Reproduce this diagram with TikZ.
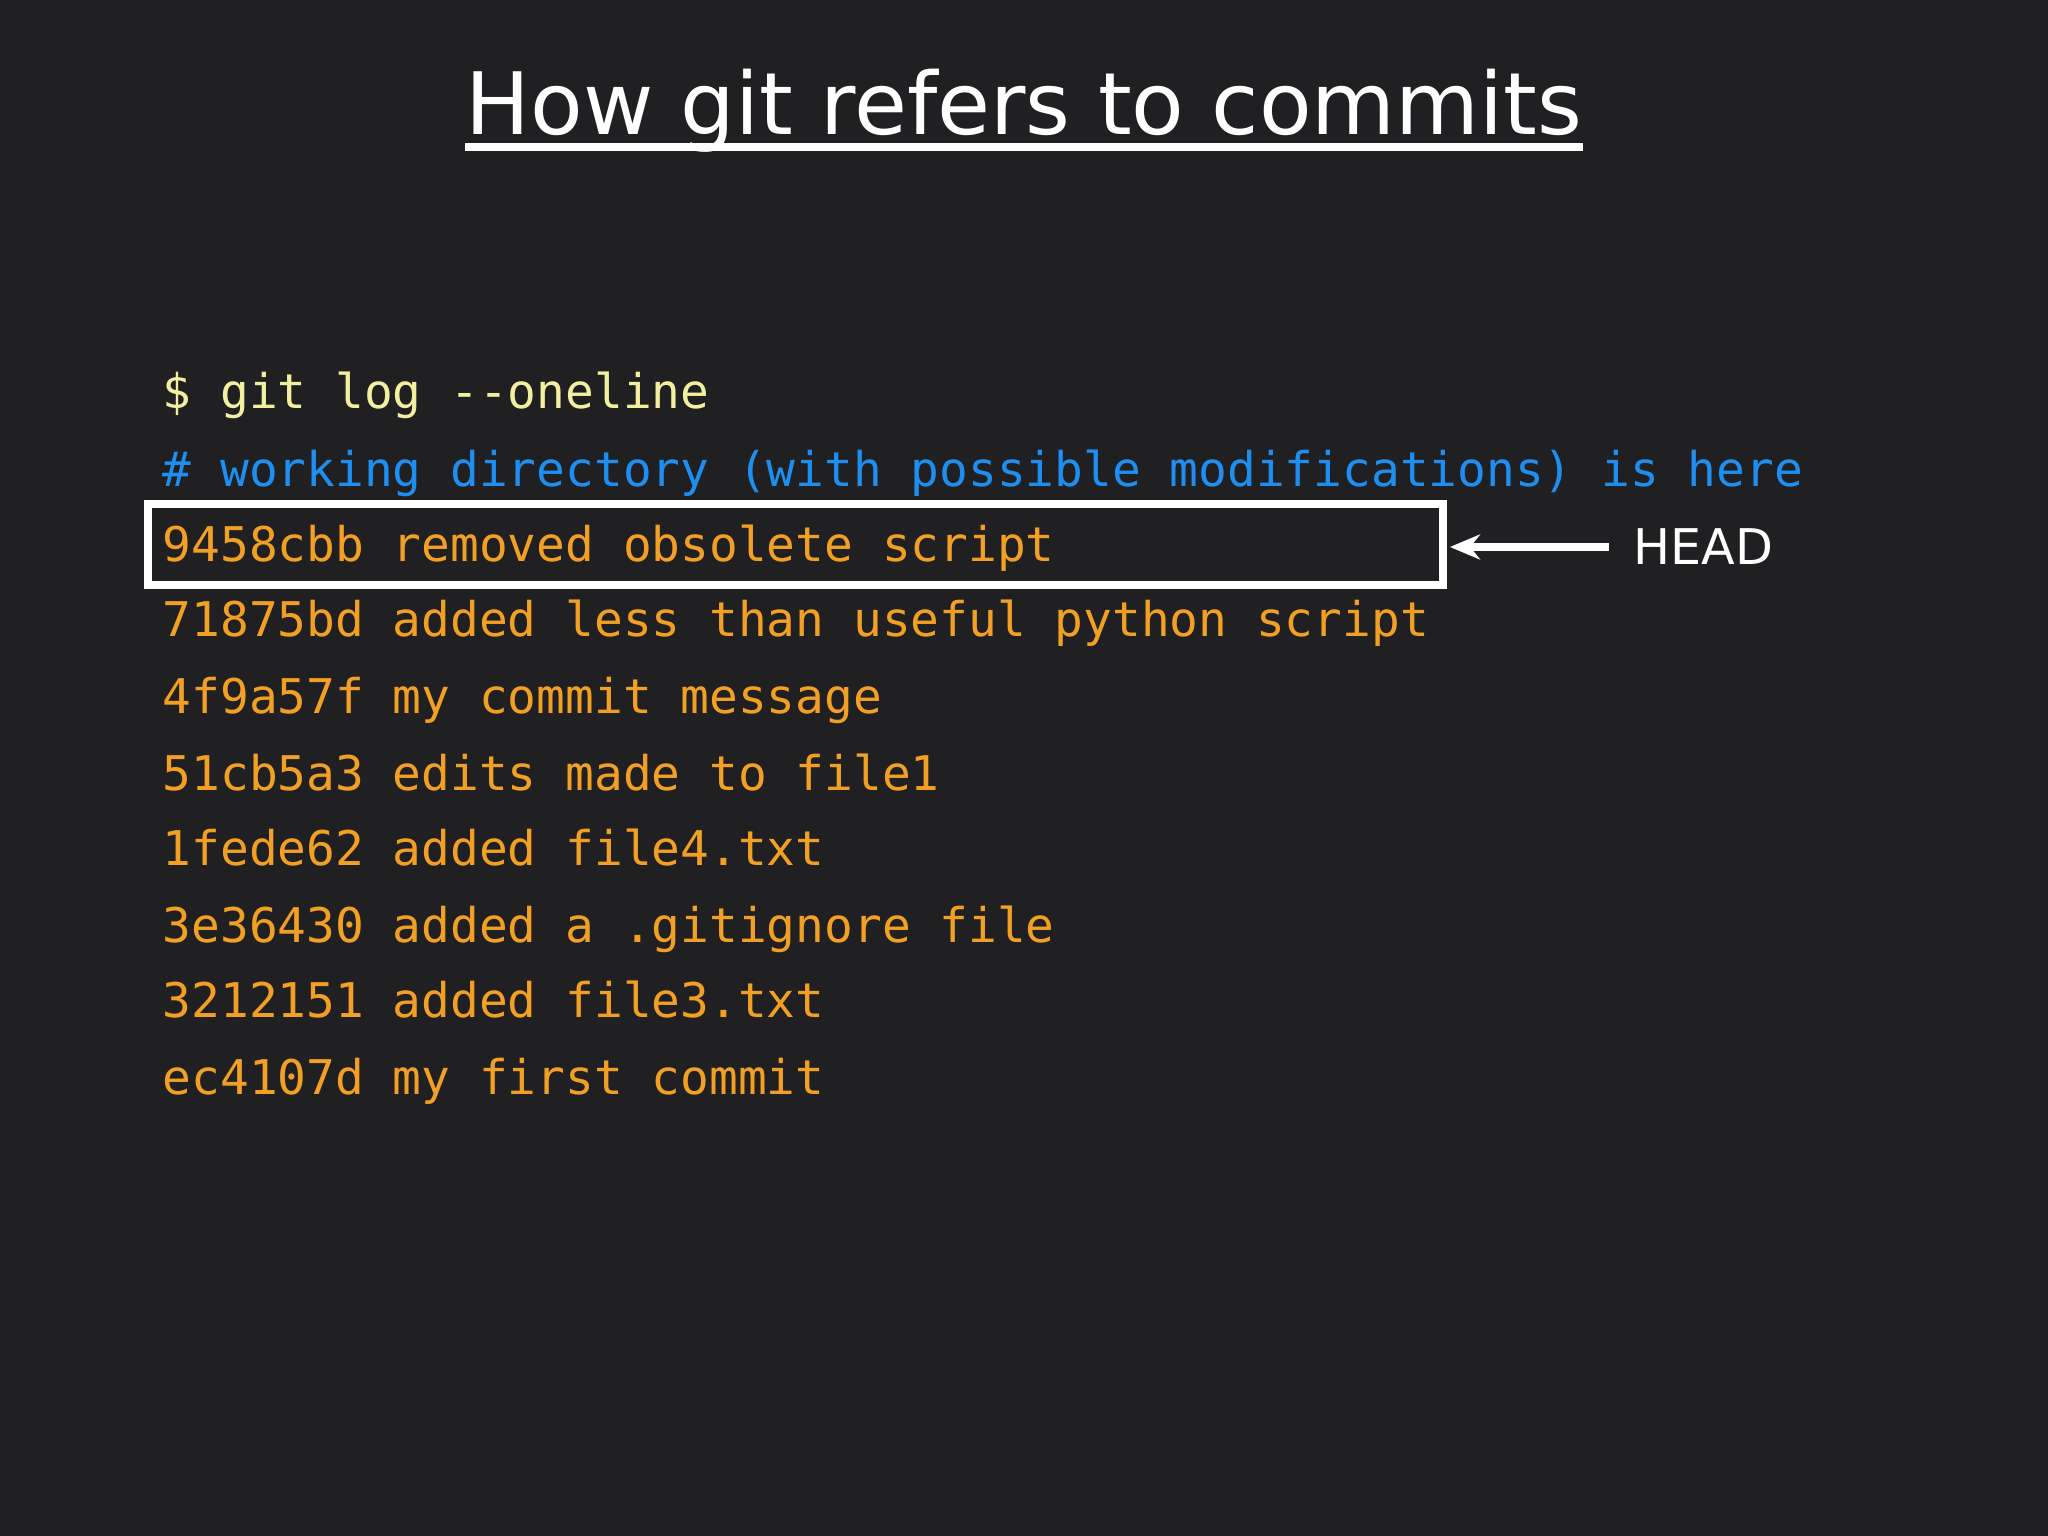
\documentclass[tikz,border=0pt]{standalone}
\usepackage{fontspec}
\setmainfont{DejaVu Sans}
\newfontfamily\codefont{DejaVu Sans Mono}
\usetikzlibrary{arrows.meta,calc}
\definecolor{bg}{HTML}{202022}
\definecolor{cmdc}{HTML}{F3EFA0}
\definecolor{cmtc}{HTML}{1E8FF0}
\definecolor{logc}{HTML}{F2A024}
\begin{document}
\begin{tikzpicture}[x=1cm,y=1cm,
  code/.style={anchor=base west,inner sep=0pt,font=\codefont\fontsize{13.6}{16}\selectfont},
  logline/.style={code,text=logc}]
\fill[bg] (0,0) rectangle (20.48,-15.36);
\useasboundingbox (0,0) rectangle (20.48,-15.36);
\node[anchor=base,inner sep=0pt,text=white,font=\fontsize{24.5}{30}\selectfont] (title) at (10.24,-1.35) {How git refers to commits};
\draw[white,line width=2.5pt] ($(title.base west)+(0,-0.12)$) -- ($(title.base east)+(0,-0.12)$);
\node[code,text=cmdc] (cmd) at (1.62,-4.09) {\$ git log --oneline};
\node[code,text=cmtc] (cmt) at (1.62,-4.86) {\# working directory (with possible modifications) is here};
\node[logline] (l1) at (1.62,-5.62) {9458cbb removed obsolete script};
\node[logline] (l2) at (1.62,-6.37) {71875bd added less than useful python script};
\node[logline] (l3) at (1.62,-7.14) {4f9a57f my commit message};
\node[logline] (l4) at (1.62,-7.90) {51cb5a3 edits made to file1};
\node[logline] (l5) at (1.62,-8.66) {1fede62 added file4.txt};
\node[logline] (l6) at (1.62,-9.42) {3e36430 added a .gitignore file};
\node[logline] (l7) at (1.62,-10.17) {3212151 added file3.txt};
\node[logline] (l8) at (1.62,-10.94) {ec4107d my first commit};
\draw[white,line width=2.5pt] (1.48,-5.04) rectangle (14.43,-5.85);
\coordinate (boxr) at (14.50,-5.47);
\node[anchor=base west,inner sep=0pt,text=white,font=\fontsize{14}{17}\selectfont] (head) at (16.33,-5.65) {HEAD};
\draw[white,line width=2pt,-{Stealth[length=0.3cm,width=0.25cm]}] (16.09,-5.47) -- (boxr);
\end{tikzpicture}
\end{document}
